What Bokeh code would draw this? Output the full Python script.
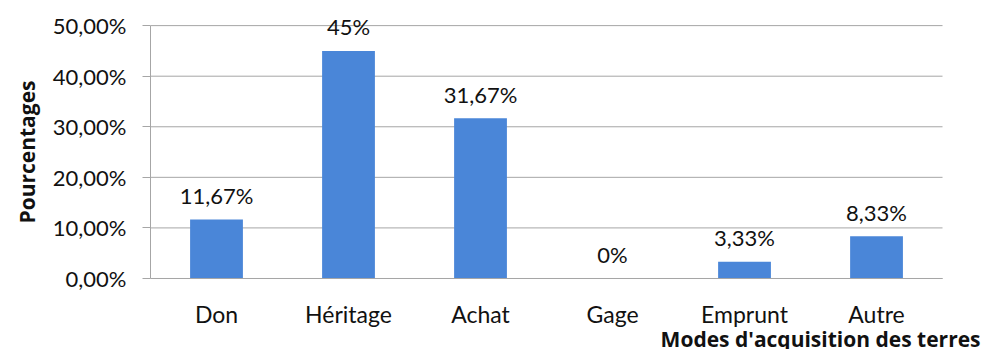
from bokeh.plotting import figure
from bokeh.models import FixedTicker, ColumnDataSource, Title, Range1d
from bokeh.core.properties import value
from bokeh.embed import file_html
from bokeh.resources import INLINE

categories = ["Don", "Héritage", "Achat", "Gage", "Emprunt", "Autre"]
percentages = [11.67, 45.0, 31.67, 0.0, 3.33, 8.33]
value_labels = ["11,67%", "45%", "31,67%", "0%", "3,33%", "8,33%"]
y_ticks = [0, 10, 20, 30, 40, 50]
y_tick_labels = ["0,00%", "10,00%", "20,00%", "30,00%", "40,00%", "50,00%"]
x_title = "Modes d'acquisition des terres"
y_title = "Pourcentages"

FONT = "Lato"
TITLE_FONT = "Open Sans"
TXT = "#111111"
GRID = "#a6a6a6"
N = len(categories)
positions = [i + 0.5 for i in range(N)]     # category slots on a numeric axis
Y_AXIS_MAX = 50
# view ranges: room right of the last slot and below 0 for the x title and
# category labels, headroom above 50% for the top value label
X_VIEW = (0, N + 0.318)
Y_VIEW = (-14.04, 52)

src = ColumnDataSource(dict(x=positions, val=percentages, lab=value_labels))

p = figure(x_range=Range1d(*X_VIEW), y_range=Range1d(*Y_VIEW),
           width=984, height=349, output_backend="svg", toolbar_location=None,
           min_border_left=150, min_border_right=0, min_border_top=15,
           min_border_bottom=0)
p.outline_line_color = None
p.background_fill_color = "white"
p.xgrid.grid_line_color = None
p.ygrid.grid_line_color = None

# horizontal gridlines over the category slots only
p.segment(x0=[0] * len(y_ticks), x1=[N] * len(y_ticks), y0=y_ticks,
          y1=y_ticks, line_color=GRID, line_width=1)

p.vbar(x="x", top="val", width=0.40, source=src, fill_color="#4A86D8",
       line_color=None)

p.text(x="x", y="val", text="lab", source=src, text_align="center",
       text_baseline="alphabetic", y_offset=-24, text_font=value(FONT),
       text_font_size="22px", text_color=TXT)

p.yaxis.ticker = FixedTicker(ticks=y_ticks)
p.yaxis.bounds = (0, Y_AXIS_MAX)
p.yaxis.major_label_overrides = {t: l for t, l in zip(y_ticks, y_tick_labels)}
p.yaxis.axis_line_color = GRID
p.yaxis.major_tick_line_color = GRID
p.yaxis.major_tick_out = 8
p.yaxis.major_tick_in = 0
p.yaxis.minor_tick_line_color = None
p.yaxis.major_label_text_font = FONT
p.yaxis.major_label_text_font_size = "22px"
p.yaxis.major_label_text_color = TXT
p.yaxis.major_label_standoff = 16

ytitle = Title(text=y_title, align="right", offset=65, standoff=14,
               vertical_align="top", text_font=TITLE_FONT,
               text_font_style="bold", text_font_size="21px", text_color=TXT)
p.add_layout(ytitle, "left")

# category axis drawn at y=0 (inside the frame)
p.xaxis.fixed_location = 0
p.xaxis.bounds = (0, N)
p.xaxis.ticker = FixedTicker(ticks=positions)
p.xaxis.major_label_overrides = {x: c for x, c in zip(positions, categories)}
p.xaxis.axis_line_color = GRID
p.xaxis.major_tick_line_color = None
p.xaxis.major_tick_out = 0
p.xaxis.major_tick_in = 0
p.xaxis.minor_tick_line_color = None
p.xaxis.major_label_text_font = FONT
p.xaxis.major_label_text_font_size = "23px"
p.xaxis.major_label_text_color = TXT
p.xaxis.major_label_standoff = 22

# x title, right-aligned just past the last slot, below the category labels
p.text(x=[N], y=[0], text=[x_title], x_offset=38, y_offset=61,
       text_align="right", text_baseline="alphabetic",
       text_font=value(TITLE_FONT), text_font_style="bold",
       text_font_size="21px", text_color=TXT)

open("out.html", "w").write(file_html(p, INLINE))
